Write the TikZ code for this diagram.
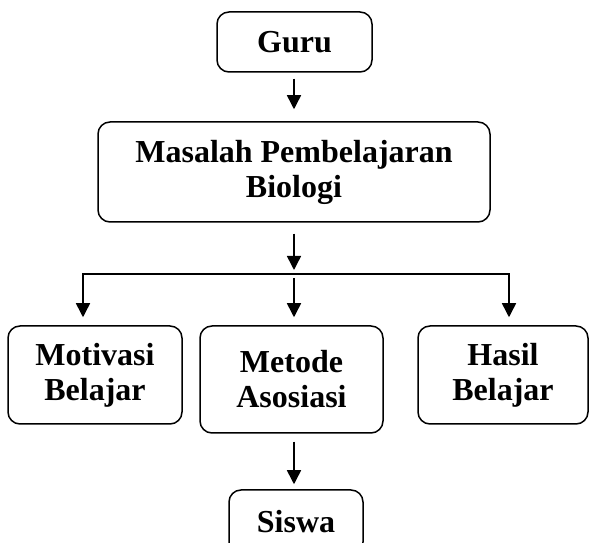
\documentclass[tikz,border=0pt]{standalone}
\usepackage{fontspec}
\setmainfont{Liberation Serif}
\usetikzlibrary{arrows.meta}
\tikzset{
  kotak/.style={draw, rounded corners=12pt, line width=1.5pt, align=center,
    inner sep=0pt, font=\fontsize{32}{35}\selectfont\bfseries},
  panah/.style={-{Triangle[width=14pt,length=14pt]}, line width=1.5pt}
}
\begin{document}
\begin{tikzpicture}[x=1pt,y=1pt]
      \useasboundingbox (0,0) rectangle (589,543);
      %kotak
      \node[kotak, minimum width=155pt, minimum height=60pt] (guru) at (294.5,501) {Guru};
      \node[kotak, minimum width=392pt, minimum height=100pt] (masalah) at (294,371) {Masalah Pembelajaran\\Biologi};
      \node[kotak, minimum width=174pt, minimum height=98pt] (motivasi) at (95,168) {Motivasi\\Belajar};
      \node[kotak, minimum width=183pt, minimum height=107pt] (metode) at (291.5,163.5) {Metode\\Asosiasi};
      \node[kotak, minimum width=170pt, minimum height=98pt] (hasil) at (503,168) {Hasil\\Belajar};
      \node[kotak, minimum width=134pt, minimum height=64pt] (siswa) at (296,21) {Siswa};
      \coordinate (cabang) at (294,269);
      \coordinate (kiri) at (83,269);
      \coordinate (kanan) at (509,269);
      %panah
      \draw[panah, shorten <=6pt, shorten >=12pt] (guru.south -| cabang) -- (masalah.north -| cabang);
      \draw[panah, shorten <=11pt, shorten >=4pt] (masalah.south -| cabang) -- (cabang);
      \draw[line width=1.5pt] (kiri) -- (kanan);
      \draw[panah, shorten >=8pt] ([yshift=0.75pt]kiri) -- (kiri |- motivasi.north);
      \draw[panah, shorten <=4pt, shorten >=8pt] (cabang) -- (cabang |- metode.north);
      \draw[panah, shorten >=8pt] ([yshift=0.75pt]kanan) -- (kanan |- hasil.north);
      \draw[panah, shorten <=8pt, shorten >=5pt] (metode.south -| cabang) -- (siswa.north -| cabang);
\end{tikzpicture}
\end{document}
